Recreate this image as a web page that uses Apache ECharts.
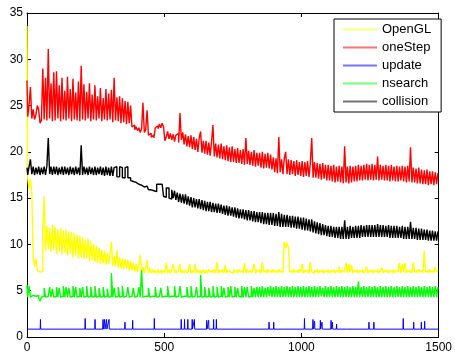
<!DOCTYPE html>
<html>
<head>
<meta charset="utf-8">
<script src="https://cdn.jsdelivr.net/npm/echarts@6/dist/echarts.min.js"></script>
<style>
  html, body { margin: 0; padding: 0; background: #fff; }
  #chart { width: 455px; height: 355px; }
</style>
</head>
<body>
<div id="chart"></div>
<script>
// samples every 5 frames, x = 0..1500
var sampleStep = 5;

var openGL = [
  33.6, 17.2, 16.0, 17.0, 15.6, 8.7, 7.6, 8.5, 7.2, 7.0,
  6.9, 7.1, 11.5, 15.2, 9.3, 12.0, 9.5, 11.8, 9.2, 12.1,
  9.4, 11.9, 9.0, 11.7, 9.3, 11.8, 8.9, 11.5, 9.1, 11.6,
  8.8, 11.4, 9.0, 11.3, 8.6, 11.2, 8.8, 11.0, 8.5, 10.9,
  8.6, 10.8, 8.4, 10.5, 8.5, 10.6, 8.2, 10.3, 8.3, 10.1,
  8.1, 9.9, 8.0, 9.6, 7.9, 9.4, 8.0, 9.3, 7.8, 9.1,
  7.9, 8.9, 10.3, 7.7, 8.7, 7.6, 9.4, 7.5, 8.6, 7.4,
  8.5, 7.3, 8.4, 7.4, 8.3, 7.2, 8.2, 7.2, 8.0, 7.1,
  7.9, 7.0, 7.8, 8.85, 7.0, 7.6, 6.9, 7.5, 8.3, 6.9,
  7.4, 6.9, 7.3, 6.9, 7.2, 6.9, 7.3, 6.9, 7.2, 6.9,
  7.2, 6.9, 8.0, 6.9, 7.3, 6.9, 7.2, 7.9, 6.9, 7.2,
  6.9, 7.3, 7.9, 6.9, 7.2, 6.9, 7.3, 6.9, 7.2, 7.9,
  6.9, 7.2, 6.9, 7.9, 6.9, 7.3, 6.9, 7.2, 6.9, 7.3,
  6.9, 7.2, 6.9, 7.3, 7.0, 7.2, 6.9, 7.3, 6.9, 8.1,
  6.9, 7.2, 7.0, 7.3, 6.9, 7.8, 6.9, 7.2, 7.0, 7.2,
  6.9, 7.3, 7.0, 7.2, 6.9, 7.3, 7.0, 7.2, 6.9, 8.0,
  6.9, 7.3, 7.0, 7.2, 6.9, 7.3, 7.9, 6.9, 7.2, 7.0,
  7.3, 6.9, 8.1, 7.0, 7.2, 6.9, 7.3, 7.0, 7.2, 6.9,
  7.3, 7.0, 7.2, 6.9, 7.3, 7.0, 7.2, 6.9, 10.3, 9.6,
  10.2, 9.7, 7.0, 7.2, 6.9, 7.3, 7.0, 7.2, 6.9, 7.3,
  7.0, 7.9, 6.9, 7.2, 7.0, 7.3, 6.9, 8.1, 7.0, 6.9,
  7.2, 7.0, 7.3, 6.9, 7.2, 7.0, 7.3, 6.9, 7.2, 7.0,
  7.3, 6.9, 7.2, 7.0, 7.3, 6.9, 7.2, 7.0, 7.6, 6.9,
  7.2, 7.0, 7.3, 8.0, 6.9, 7.9, 7.0, 7.8, 6.9, 7.2,
  7.0, 7.3, 6.9, 7.2, 7.0, 7.3, 6.9, 7.2, 7.6, 6.9,
  7.2, 7.0, 7.3, 6.9, 7.2, 7.0, 7.3, 6.9, 7.2, 7.5,
  6.9, 7.2, 7.0, 7.3, 6.9, 7.2, 7.0, 7.3, 6.9, 7.2,
  7.0, 7.3, 8.0, 6.9, 7.9, 7.0, 8.0, 6.9, 7.2, 7.0,
  7.3, 6.9, 8.1, 7.0, 7.2, 6.9, 7.3, 7.0, 7.2, 6.9,
  9.3, 7.0, 7.2, 6.9, 7.3, 7.0, 7.2, 6.9, 7.6, 7.0, 7.2
];

var oneStep = [
  27.7, 23.8, 25.0, 27.0, 23.6, 24.6, 23.5, 24.0, 25.0, 24.6,
  23.1, 23.4, 29.0, 23.5, 28.0, 23.4, 31.1, 23.6, 27.4, 23.3,
  28.6, 23.4, 28.7, 23.6, 27.2, 23.3, 28.0, 23.5, 26.6, 23.4,
  28.1, 23.6, 26.8, 23.3, 27.9, 23.5, 26.4, 23.4, 27.6, 23.3,
  29.3, 23.5, 27.3, 23.4, 26.5, 23.6, 27.4, 23.3, 26.2, 23.5,
  27.2, 23.4, 26.0, 23.6, 26.9, 23.3, 25.8, 23.5, 26.8, 23.4,
  26.3, 23.5, 26.7, 23.2, 28.0, 23.4, 25.9, 23.3, 26.0, 23.1,
  25.8, 23.2, 25.5, 23.0, 25.4, 23.1, 25.0, 22.7, 22.9, 22.4,
  22.7, 22.3, 22.6, 22.1, 22.5, 25.3, 22.1, 22.4, 24.5, 21.8,
  22.0, 21.6, 21.8, 21.5, 22.6, 22.8, 22.5, 23.0, 22.6, 23.1,
  22.7, 21.2, 21.6, 22.2, 21.4, 22.0, 21.3, 21.9, 21.1, 21.8,
  22.0, 21.0, 24.2, 21.3, 22.1, 20.8, 21.9, 20.6, 21.7, 20.5,
  21.8, 20.3, 21.6, 20.2, 21.4, 20.0, 21.5, 22.2, 19.9, 21.2,
  19.8, 21.2, 19.7, 21.0, 19.6, 21.1, 22.9, 19.5, 20.9, 19.4,
  20.8, 19.3, 20.9, 19.2, 20.6, 19.1, 20.7, 19.0, 20.5, 18.9,
  20.6, 18.9, 20.3, 18.8, 20.4, 18.8, 20.2, 18.7, 20.3, 18.6,
  21.5, 18.7, 20.1, 18.6, 20.0, 18.5, 20.2, 18.4, 19.9, 18.5,
  19.9, 18.3, 20.0, 18.2, 19.8, 18.3, 19.9, 18.2, 19.7, 18.1,
  19.4, 17.8, 19.3, 17.7, 21.6, 17.8, 19.2, 17.6, 19.3, 20.0,
  17.6, 19.2, 17.5, 19.1, 17.6, 19.0, 17.4, 19.1, 17.5, 18.9,
  17.4, 19.0, 17.3, 18.9, 17.4, 19.0, 17.3, 18.8, 21.5, 17.2,
  18.9, 17.2, 18.8, 17.1, 18.7, 17.0, 18.8, 17.1, 18.6, 16.9,
  18.6, 16.9, 18.5, 16.8, 18.6, 16.7, 18.4, 16.8, 18.5, 16.7,
  18.4, 16.6, 20.6, 16.7, 18.4, 16.6, 18.5, 16.7, 18.4, 16.8,
  18.5, 16.8, 18.6, 16.9, 18.5, 16.9, 18.6, 17.0, 18.7, 16.9,
  18.6, 17.0, 18.7, 16.9, 18.6, 17.0, 19.5, 16.9, 18.6, 17.0,
  18.5, 16.9, 18.6, 16.9, 18.5, 16.8, 18.6, 16.9, 18.4, 16.8,
  18.5, 16.8, 18.4, 16.9, 18.5, 16.8, 18.4, 16.7, 18.5, 16.8,
  20.5, 16.7, 18.3, 16.7, 18.2, 16.6, 18.3, 16.6, 18.1, 16.5,
  18.0, 16.5, 18.1, 16.4, 17.9, 16.5, 17.9, 16.4, 17.8, 16.5, 17.7
];

var nsearch = [
  5.6, 4.3, 5.5, 4.3, 4.5, 4.3, 4.4, 4.3, 4.5, 4.2,
  3.9, 4.3, 4.4, 5.3, 4.3, 4.4, 4.3, 5.4, 4.3, 5.2,
  4.3, 4.4, 5.4, 4.3, 5.3, 4.3, 4.4, 5.5, 4.3, 5.4,
  4.3, 5.3, 4.3, 4.4, 5.5, 4.3, 5.4, 4.3, 4.4, 5.3,
  4.3, 5.4, 4.3, 4.4, 5.5, 4.3, 4.4, 5.4, 4.3, 4.4,
  5.5, 4.3, 4.4, 5.3, 4.3, 4.4, 5.4, 4.3, 4.4, 5.2,
  4.3, 4.4, 6.9, 4.3, 5.3, 4.3, 4.4, 5.4, 4.3, 4.4,
  5.5, 4.3, 4.4, 4.3, 5.4, 4.3, 4.4, 4.3, 5.3, 4.3,
  4.4, 4.3, 5.4, 4.3, 7.2, 4.3, 4.4, 4.3, 4.4, 5.3,
  4.3, 4.4, 4.3, 4.4, 5.4, 4.3, 4.4, 4.3, 5.3, 4.3,
  4.4, 4.3, 4.4, 5.5, 4.3, 4.4, 4.3, 4.4, 5.5, 4.3,
  4.4, 4.3, 5.5, 4.3, 4.4, 4.3, 4.4, 5.4, 4.3, 4.4,
  5.5, 4.3, 4.4, 4.3, 5.4, 4.3, 4.4, 6.7, 4.3, 4.4,
  5.4, 4.3, 4.4, 5.3, 4.3, 4.4, 5.5, 4.3, 4.4, 5.4,
  4.3, 4.4, 5.5, 4.3, 5.3, 4.3, 4.4, 5.4, 4.3, 5.5,
  4.3, 4.4, 5.4, 4.3, 5.3, 4.4, 4.3, 5.5, 4.3, 5.4,
  4.3, 5.4, 4.3, 4.4, 5.5, 4.3, 5.3, 4.3, 5.4, 4.3,
  5.4, 4.3, 5.5, 4.3, 5.3, 4.3, 5.4, 4.4, 5.5, 4.3,
  5.4, 4.3, 5.5, 4.3, 5.4, 4.3, 5.5, 4.3, 5.4, 4.3,
  5.5, 4.3, 5.4, 4.3, 5.5, 4.3, 5.4, 4.3, 5.5, 4.3,
  5.4, 4.3, 5.5, 4.3, 5.4, 4.3, 5.5, 4.3, 5.4, 4.3,
  5.5, 4.3, 5.4, 4.3, 5.5, 4.4, 5.3, 4.3, 5.5, 4.3,
  5.4, 4.3, 5.5, 4.3, 5.4, 4.3, 5.5, 4.3, 5.4, 4.3,
  5.5, 4.3, 5.4, 4.3, 5.5, 4.3, 5.4, 4.3, 5.5, 4.3,
  5.4, 4.3, 6.0, 4.3, 5.4, 4.3, 5.5, 4.3, 5.4, 4.3,
  5.5, 4.3, 5.4, 4.3, 5.5, 4.3, 5.4, 4.3, 5.5, 4.3,
  5.4, 4.3, 5.5, 4.3, 5.4, 4.3, 5.5, 4.3, 5.4, 4.3,
  5.5, 4.3, 5.4, 4.3, 5.5, 4.3, 5.4, 4.3, 5.5, 4.3,
  5.4, 4.3, 5.5, 4.3, 5.4, 4.3, 5.5, 4.3, 5.4, 4.3,
  5.5, 4.3, 5.4, 4.3, 5.5, 4.3, 5.4, 4.3, 5.5, 4.3, 5.4
];

var collision = [
  18.3, 17.5, 18.4, 19.2, 17.6, 18.4, 17.5, 18.3, 17.6, 18.4,
  17.5, 18.3, 17.6, 18.4, 17.5, 18.5, 21.5, 17.6, 18.4, 17.5,
  18.4, 17.6, 18.4, 17.5, 18.3, 17.6, 18.4, 17.5, 18.4, 17.6,
  18.3, 17.5, 18.4, 17.6, 18.3, 17.5, 18.4, 17.6, 18.3, 17.5,
  20.7, 17.5, 18.4, 17.6, 18.3, 17.5, 18.4, 17.6, 18.3, 17.5,
  18.4, 17.5, 18.3, 17.6, 18.4, 17.5, 18.3, 17.4, 18.4, 17.5,
  18.3, 17.4, 18.4, 17.4, 18.3, 18.4, 17.3, 17.3, 18.4, 18.3,
  17.2, 17.2, 18.3, 18.4, 17.2, 17.2, 16.9, 16.8, 16.8, 16.7,
  16.6, 16.5, 16.4, 16.4, 16.3, 16.2, 16.1, 16.3, 16.1, 15.9,
  15.9, 15.8, 15.8, 15.7, 15.7, 16.5, 16.5, 16.5, 16.5, 16.4,
  15.2, 15.1, 16.1, 16.1, 15.0, 14.9, 15.9, 15.0, 15.8, 14.8,
  15.6, 14.6, 15.5, 14.5, 15.4, 14.4, 15.4, 14.3, 15.2, 14.2,
  15.1, 14.0, 15.0, 14.0, 14.9, 13.9, 14.9, 13.8, 14.8, 13.7,
  14.7, 13.6, 14.6, 13.6, 14.6, 13.5, 14.5, 13.5, 14.4, 13.4,
  14.4, 13.4, 14.3, 13.3, 14.2, 13.2, 14.2, 13.1, 14.1, 13.1,
  14.0, 13.0, 14.0, 12.9, 13.9, 12.8, 13.8, 12.8, 13.8, 12.7,
  13.7, 12.6, 13.7, 12.6, 13.6, 12.5, 13.6, 12.4, 13.5, 12.4,
  13.5, 12.3, 13.5, 12.2, 13.4, 12.2, 13.4, 12.1, 13.4, 12.1,
  13.4, 12.0, 13.3, 12.0, 13.5, 11.9, 13.3, 11.9, 13.2, 11.9,
  13.2, 11.9, 13.1, 11.8, 13.1, 11.8, 13.0, 11.7, 13.0, 11.7,
  12.9, 11.6, 12.9, 11.5, 12.8, 11.5, 12.7, 11.4, 12.7, 11.3,
  12.5, 11.2, 12.4, 11.1, 12.3, 11.0, 12.2, 11.0, 12.1, 10.9,
  12.0, 10.8, 12.0, 10.8, 11.9, 10.7, 11.9, 10.7, 11.9, 10.6,
  11.9, 10.6, 12.6, 10.6, 11.9, 10.6, 12.0, 10.7, 11.9, 10.7,
  12.0, 10.7, 12.0, 10.7, 12.1, 10.8, 12.0, 10.8, 12.1, 10.8,
  12.1, 10.8, 12.1, 10.8, 12.1, 10.8, 12.2, 10.8, 12.1, 10.8,
  12.1, 10.8, 12.0, 10.8, 12.1, 10.7, 12.0, 10.7, 12.0, 10.7,
  12.0, 10.7, 11.9, 10.7, 12.0, 10.6, 11.9, 10.6, 11.9, 10.6,
  12.45, 10.6, 11.8, 10.6, 11.8, 10.5, 11.7, 10.5, 11.7, 10.5,
  11.6, 10.5, 11.6, 10.4, 11.5, 10.4, 11.5, 10.4, 11.4, 10.4, 11.4
];

// update: flat baseline with short spikes
var updateBase = 0.85;
var updateSpikeX = [49, 158, 212, 248, 277, 283, 290, 299, 316, 331, 357, 385, 464,
  562, 574, 586, 602, 610, 655, 662, 680, 690, 846, 882, 899, 1011,
  1042, 1048, 1069, 1075, 1108, 1113, 1128, 1165, 1246, 1264, 1371, 1409, 1437, 1449];
var updateSpikeY = [1.9, 0.95, 2.0, 1.9, 1.9, 1.9, 1.9, 1.9, 1.0, 1.0, 1.6, 1.8, 2.0,
  1.9, 1.9, 1.9, 1.9, 1.9, 1.8, 1.8, 1.9, 1.9, 0.95, 1.6, 1.6, 2.0,
  1.9, 1.7, 1.8, 1.6, 1.8, 1.6, 1.4, 0.95, 1.6, 1.6, 2.0, 1.6, 1.6, 1.7];

var seriesNames = ['OpenGL', 'oneStep', 'update', 'nsearch', 'collision'];
var seriesColors = ['#ffff00', '#ff0000', '#0000ff', '#00ff00', '#000000'];

var xTicks = [0, 1500, 500];
var yTicks = [0, 35, 5];

function toPairs(arr) {
  return arr.map(function (v, i) { return [i * sampleStep, v]; });
}

var updateData = [[0, updateBase]];
updateSpikeX.forEach(function (x, i) {
  updateData.push([x - 1, updateBase], [x, updateSpikeY[i]], [x + 1, updateBase]);
});
updateData.push([1500, updateBase]);

var font = 'Liberation Sans, Arial, Helvetica, sans-serif';

function axisBase(extra) {
  var a = {
    type: 'value',
    axisLine: { show: true, onZero: false, lineStyle: { color: '#000', width: 1 } },
    axisTick: { show: true, inside: true, length: 4, lineStyle: { color: '#000' } },
    splitLine: { show: false },
    axisLabel: { color: '#000', fontFamily: font, fontSize: 12 }
  };
  for (var k in extra) a[k] = extra[k];
  return a;
}

// dense noisy traces are drawn as step lines so every sample is a vertical stroke
function line(i, data, step) {
  var s = {
    name: seriesNames[i], type: 'line', data: data,
    showSymbol: false, symbol: 'none',
    xAxisIndex: 0, yAxisIndex: 0,
    color: seriesColors[i],
    lineStyle: { color: seriesColors[i], width: step ? 1.4 : 1 },
    itemStyle: { color: seriesColors[i] },
    animation: false
  };
  if (step) s.step = 'middle';
  return s;
}

var chart = echarts.init(document.getElementById('chart'));
chart.setOption({
  backgroundColor: '#fff',
  color: seriesColors,
  animation: false,
  grid: { left: 27, right: 13, top: 13, bottom: 18 },
  xAxis: [
    axisBase({ position: 'bottom', min: xTicks[0], max: xTicks[1], interval: xTicks[2],
      axisLabel: { color: '#000', fontFamily: font, fontSize: 12, margin: 5,
        formatter: function (v) { return String(v); } } }),
    axisBase({ position: 'top', min: xTicks[0], max: xTicks[1], interval: xTicks[2],
      axisLabel: { show: false } })
  ],
  yAxis: [
    axisBase({ position: 'left', min: yTicks[0], max: yTicks[1], interval: yTicks[2],
      axisLabel: { color: '#000', fontFamily: font, fontSize: 12, margin: 4 } }),
    axisBase({ position: 'right', min: yTicks[0], max: yTicks[1], interval: yTicks[2],
      axisLabel: { show: false } })
  ],
  legend: {
    orient: 'vertical',
    left: 334, top: 19,
    padding: [3.5, 10, 3.5, 9],
    itemGap: 4,
    itemWidth: 34, itemHeight: 2,
    backgroundColor: '#fff',
    borderColor: '#000', borderWidth: 1, borderRadius: 0,
    textStyle: { color: '#000', fontFamily: font, fontSize: 13, lineHeight: 14 },
    data: seriesNames.map(function (n, i) {
      return {
        name: n,
        icon: 'rect',
        itemStyle: { color: seriesColors[i], opacity: 0.55, borderWidth: 0 }
      };
    })
  },
  series: [
    line(0, toPairs(openGL), true),
    line(1, toPairs(oneStep), true),
    line(2, updateData, false),
    line(3, toPairs(nsearch), true),
    line(4, toPairs(collision), true)
  ]
});
</script>
</body>
</html>
